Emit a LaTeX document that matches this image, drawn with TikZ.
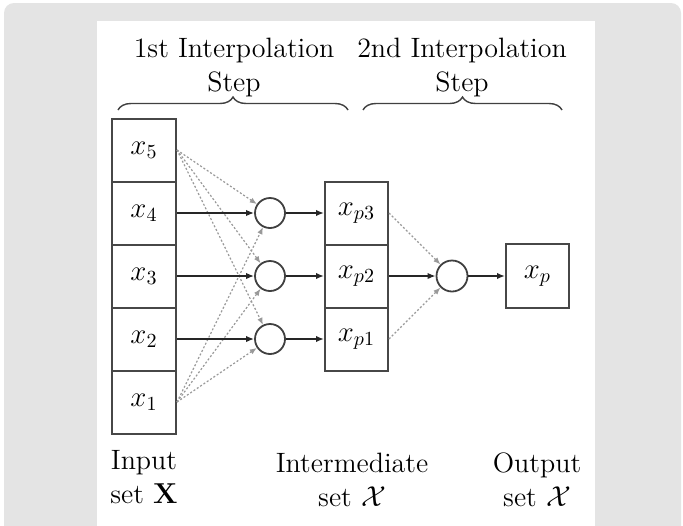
\documentclass[tikz,border=0pt]{standalone}
\usetikzlibrary{decorations.pathreplacing,arrows.meta}
\definecolor{panelgray}{HTML}{E4E4E4}
\begin{document}
\begin{tikzpicture}[x=0.5pt,y=-0.5pt,
  font=\fontsize{14}{17}\selectfont,
  cell/.style={draw=black!72,line width=1pt,minimum width=32pt,minimum height=31.5pt,inner sep=0pt},
  sumnode/.style={circle,draw=black!75,line width=0.9pt,minimum size=15pt,inner sep=0pt},
  flow/.style={draw=black!85,line width=0.8pt,-{Latex[length=4pt,width=3.2pt]}},
  side/.style={draw=black!40,line width=0.6pt,dash pattern=on 1pt off 1pt,-{Latex[length=3.5pt,width=2.8pt]}},
  bracket/.style={draw=black!75,line width=0.7pt,decorate,decoration={brace,amplitude=6.5pt}},
  capt/.style={align=center,inner sep=0pt,anchor=north}]

% page, grey frame and white sheet
\clip (0,0) rectangle (683,525);
\fill[white] (0,0) rectangle (683,525);
\fill[panelgray,rounded corners=5pt] (4,3) rectangle (681,560);
\fill[white] (97,21) rectangle (595,560);

% headings with braces
\node[capt] (h1) at (234,37.6) {1st Interpolation\\Step};
\node[capt] (h2) at (462,37.6) {2nd Interpolation\\Step};
\draw[bracket] (118,110) -- (348,110);
\draw[bracket] (363,110) -- (562,110);

% input set
\node[cell] (x5) at (144,150) {$x_5$};
\node[cell] (x4) at (144,213) {$x_4$};
\node[cell] (x3) at (144,276) {$x_3$};
\node[cell] (x2) at (144,339) {$x_2$};
\node[cell] (x1) at (144,402) {$x_1$};

% first interpolation nodes
\node[sumnode] (c1) at (270,213) {};
\node[sumnode] (c2) at (270,276) {};
\node[sumnode] (c3) at (270,339) {};

% intermediate set
\node[cell,minimum width=31.5pt] (p3) at (356.5,213) {$x_{p3}$};
\node[cell,minimum width=31.5pt] (p2) at (356.5,276) {$x_{p2}$};
\node[cell,minimum width=31.5pt] (p1) at (356.5,339) {$x_{p1}$};

% second interpolation node and output
\node[sumnode,minimum size=15.5pt] (c4) at (452,276) {};
\node[cell,minimum width=31.5pt,minimum height=32pt] (xp) at (537.5,276) {$x_p$};

% side contributions
\foreach \c in {c1,c2,c3} {
  \draw[side] (x5.east) -- (\c);
  \draw[side] (x1.east) -- (\c);
}
\draw[side] (p3.east) -- (c4);
\draw[side] (p1.east) -- (c4);

% main flow
\draw[flow] (x4.east) -- (c1);
\draw[flow] (x3.east) -- (c2);
\draw[flow] (x2.east) -- (c3);
\draw[flow] (c1) -- (p3.west);
\draw[flow] (c2) -- (p2.west);
\draw[flow] (c3) -- (p1.west);
\draw[flow] (p2.east) -- (c4);
\draw[flow] (c4) -- (xp.west);

% set names
\node[capt] (inp) at (144,450) {Input\\set $\mathbf{X}$};
\node[capt] (mid) at (352,452.6) {Intermediate\\set $\mathcal{X}$};
\node[capt] (out) at (537,452.3) {Output\\set $\mathcal{X}$};
\end{tikzpicture}
\end{document}
